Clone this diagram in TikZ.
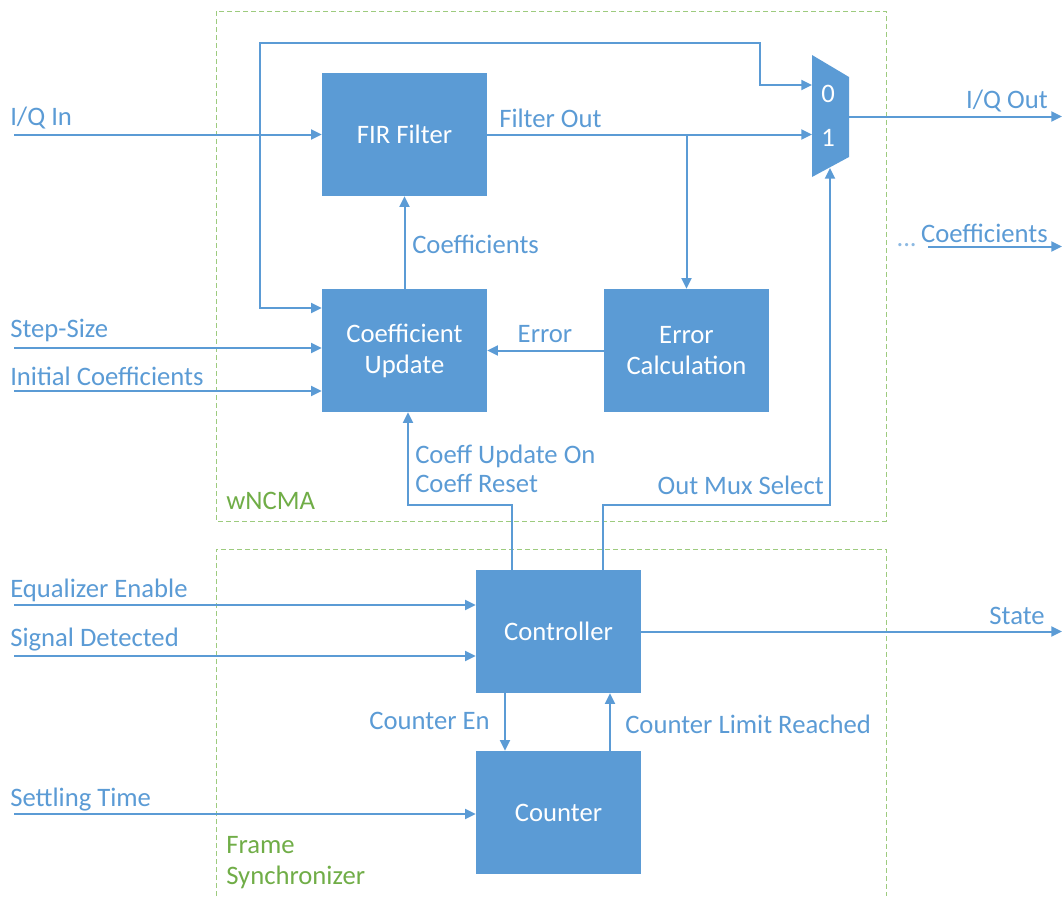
\documentclass[tikz,border=0pt]{standalone}
\usepackage{fontspec}
\setmainfont{Carlito}
\usetikzlibrary{arrows.meta}

\definecolor{boxblue}{HTML}{5B9BD5}
\definecolor{grpgreen}{HTML}{70AD47}
\definecolor{dashgreen}{HTML}{9DCB7E}

\tikzset{
  block/.style={fill=boxblue, text=white, minimum width=123.75pt, minimum height=92.25pt,
    inner sep=0pt, align=center, font=\fontsize{20}{23.25}\selectfont},
  sig/.style={draw=boxblue, line width=1.5pt, -{Triangle[length=8pt,width=7.5pt]}},
  lbl/.style={text=boxblue, inner sep=0pt, align=left, font=\fontsize{20}{21.75}\selectfont},
  muxlbl/.style={text=white, inner sep=0pt, font=\fontsize{20}{23}\selectfont},
  grp/.style={draw=dashgreen, line width=0.75pt, dash pattern=on 3.5pt off 2.5pt},
  grplbl/.style={text=grpgreen, inner sep=0pt, align=left, font=\fontsize{20}{23.25}\selectfont}
}

\begin{document}
\begin{tikzpicture}[x=0.75pt, y=-0.75pt]
\useasboundingbox (0,0) rectangle (1062,896);

\draw [grp] (216,11) rectangle (886,521);
\draw [grp] (216,896) |- (886,549) -- (886,896);
\node [grplbl, anchor=west] (wncma) at (226,501) {wNCMA};
\node [grplbl, anchor=west] (fsync) at (226,862.5) {Frame\\Synchronizer};

\node [block] (fir) at (404.5,134.5) {FIR Filter};
\node [block] (cupd) at (404.5,350.5) {Coefficient\\Update};
\node [block] (errc) at (686.5,350.5) {Error\\Calculation};
\node [block] (ctrl) at (558.5,631.5) {Controller};
\node [block] (cnt) at (558.5,812.5) {Counter};

\fill [boxblue] (812,55) -- (849,77) -- (849,157) -- (812,177) -- cycle;
\node [muxlbl] (mux0) at (828,94) {0};
\node [muxlbl] (mux1) at (828,138) {1};
\coordinate (muxin0) at (812,85);
\coordinate (muxin1) at (812,134.5);
\coordinate (muxout) at (849,116.5);
\coordinate (muxsel) at (830,168);

\coordinate (iqin) at (14,134.5);
\coordinate (byp) at (260,134.5);
\coordinate (fobr) at (686.5,134.5);
\coordinate (iqout) at (1062,116.5);
\coordinate (cfdots) at (928,246.5);
\coordinate (cfout) at (1062,246.5);
\coordinate (stepin) at (14,348);
\coordinate (initin) at (14,391);
\coordinate (eqin) at (14,605);
\coordinate (sigin) at (14,656);
\coordinate (stout) at (1062,631.5);
\coordinate (setin) at (14,814);

\node [lbl, anchor=west] (t1) at (10,118) {I/Q In};
\node [lbl, anchor=west] (t2) at (499,118) {Filter Out};
\node [lbl, anchor=east] (t3) at (1048,101) {I/Q Out};
\node [lbl, anchor=east] (t4) at (1048,233) {Coefficients};
\node [lbl, text=boxblue!70, anchor=east] (t5) at (917,245) {...};
\node [lbl, anchor=west] (t6) at (412,244) {Coefficients};
\node [lbl, anchor=west] (t7) at (10,330) {Step-Size};
\node [lbl, anchor=west] (t8) at (10,376) {Initial Coefficients};
\node [lbl] (t9) at (545,334) {Error};
\node [lbl, anchor=west] (t10) at (415,468.5) {Coeff Update On\\Coeff Reset};
\node [lbl, anchor=east] (t11) at (824,485) {Out Mux Select};
\node [lbl, anchor=west] (t12) at (10,590) {Equalizer Enable};
\node [lbl, anchor=west] (t13) at (10,640) {Signal Detected};
\node [lbl, anchor=east] (t14) at (1045,616) {State};
\node [lbl, anchor=east] (t15) at (490,721) {Counter En};
\node [lbl, anchor=west] (t16) at (625,724) {Counter Limit Reached};
\node [lbl, anchor=west] (t17) at (10,800) {Settling Time};

\draw [sig] (iqin) -- (fir);
\draw [sig] (byp) |- (760,43) |- (muxin0);
\draw [sig] (byp) -- (260,308) -- (cupd.west |- 260,308);
\draw [sig] (fir) -- (muxin1);
\draw [sig] (fobr) -- (errc);
\draw [sig] (muxout) -- (iqout);
\draw [sig] (cfdots) -- (cfout);
\draw [sig] (cupd) -- (fir);
\draw [sig] (errc) -- (cupd);
\draw [sig] (stepin) -- (cupd.west |- stepin);
\draw [sig] (initin) -- (cupd.west |- initin);
\draw [sig] (512,0 |- ctrl.north) |- (408,505) -- (408,0 |- cupd.south);
\draw [sig] (603,0 |- ctrl.north) |- (830,505) -- (muxsel);
\draw [sig] (eqin) -- (ctrl.west |- eqin);
\draw [sig] (sigin) -- (ctrl.west |- sigin);
\draw [sig] (ctrl) -- (stout);
\draw [sig] (505,0 |- ctrl.south) -- (505,0 |- cnt.north);
\draw [sig] (610,0 |- cnt.north) -- (610,0 |- ctrl.south);
\draw [sig] (setin) -- (cnt.west |- setin);
\end{tikzpicture}
\end{document}
